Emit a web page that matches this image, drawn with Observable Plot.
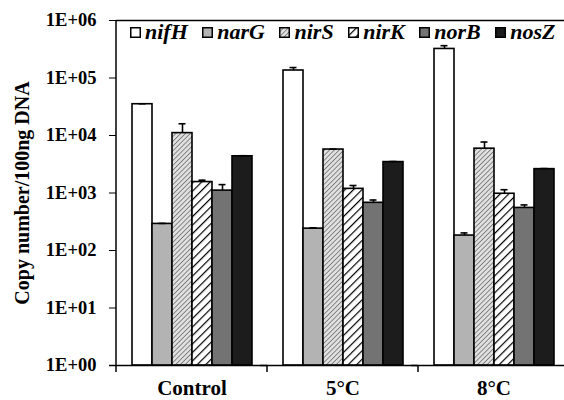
<!DOCTYPE html>
<html>
<head>
<meta charset="utf-8">
<script src="https://cdn.jsdelivr.net/npm/d3@7"></script>
<script src="https://cdn.jsdelivr.net/npm/@observablehq/plot@0.6"></script>
<style>
  body { margin: 0; background: white; }
  #wrap { position: relative; width: 564px; height: 400px; overflow: hidden; background: white; }
  #wrap > svg.plot { max-width: none; }
  #legend { position: absolute; top: 19px; left: 130px; display: flex; align-items: center;
    font-family: "Liberation Serif", serif; font-weight: bold; font-style: italic; font-size: 22px; color: black; }
  #legend .item { display: flex; align-items: center; margin-right: 14.5px; }
  #legend svg { margin-right: 4px; }
  g[aria-label="y-axis tick label"] text { font-size: 18.5px; }
  g[aria-label="y-axis label"] text { font-size: 20px; }
  g[aria-label="fx-axis tick label"] text { font-size: 21px; }
</style>
</head>
<body>
<svg width="0" height="0" style="position:absolute">
  <defs>
    <pattern id="pS" width="3.4" height="3.4" patternUnits="userSpaceOnUse" patternTransform="rotate(45)">
      <rect width="3.4" height="3.4" fill="#e0e0e0"></rect>
      <line x1="0" y1="0" x2="0" y2="3.4" stroke="#6a6a6a" stroke-width="1.5"></line>
    </pattern>
    <pattern id="pK" width="6" height="6" patternUnits="userSpaceOnUse" patternTransform="rotate(45)">
      <rect width="6" height="6" fill="white"></rect>
      <line x1="0" y1="0" x2="0" y2="6" stroke="black" stroke-width="2.4"></line>
    </pattern>
  </defs>
</svg>
<div id="wrap"><div id="legend"></div></div>
<script>
const groups = ["Control", "5°C", "8°C"];
const genes = ["nifH", "narG", "nirS", "nirK", "norB", "nosZ"];
const fills = ["white", "#b3b3b3", "url(#pS)", "url(#pK)", "#737373", "#1c1c1c"];

// values per group (Control, 5°C, 8°C)
const nifH = [35000, 135000, 320000];
const narG = [290, 240, 182];
const nirS = [11000, 5700, 5900];
const nirK = [1550, 1180, 970];
const norB = [1100, 675, 550];
const nosZ = [4350, 3450, 2600];

// upper error per group
const nifHErr = [600, 17000, 45000];
const narGErr = [6, 8, 20];
const nirSErr = [5000, 100, 1800];
const nirKErr = [120, 170, 170];
const norBErr = [300, 80, 70];
const nosZErr = [100, 80, 60];

const yTicks = [1, 10, 100, 1000, 10000, 100000, 1000000];

const series = {nifH, narG, nirS, nirK, norB, nosZ};
const errs = {nifH: nifHErr, narG: narGErr, nirS: nirSErr, nirK: nirKErr, norB: norBErr, nosZ: nosZErr};
const rows = [];
groups.forEach((g, i) => genes.forEach(gene => {
  rows.push({group: g, gene, value: series[gene][i], top: series[gene][i] + errs[gene][i]});
}));

// the plotting area runs a few pixels past the right edge of the 564px picture (clipped)
const chart = Plot.plot({
  width: 570,
  height: 400,
  marginTop: 20,
  marginBottom: 35,
  marginLeft: 115,
  marginRight: 0,
  style: {fontFamily: "Liberation Serif, serif", fontWeight: "bold", fontSize: "17px", color: "black", background: "white"},
  fx: {domain: groups, padding: 0, label: null},
  x: {domain: genes, paddingInner: 0, paddingOuter: 0.62, axis: null},
  y: {type: "log", domain: [1, 1e6]},
  color: {domain: genes, range: fills},
  marks: [
    Plot.barY(rows, {fx: "group", x: "gene", y1: 1, y2: "value", fill: "gene", stroke: "black", strokeWidth: 1.6}),
    Plot.ruleX(rows, {fx: "group", x: "gene", y1: "value", y2: "top", stroke: "black", strokeWidth: 1.6}),
    Plot.tickY(rows, {fx: "group", x: "gene", y: "top", stroke: "black", strokeWidth: 1.6, insetLeft: 6.5, insetRight: 6.5}),
    Plot.ruleY([1e6], {stroke: "black", strokeWidth: 1.5}),
    Plot.ruleY([1], {stroke: "black", strokeWidth: 1.5, insetLeft: -7}),
    Plot.axisY({ticks: yTicks, tickFormat: d => "1E+" + String(Math.round(Math.log10(d))).padStart(2, "0"),
      tickSize: 7, tickPadding: 13, stroke: "black",
      label: "Copy number/100ng DNA", labelAnchor: "center", labelOffset: 102, labelArrow: "none"}),
    Plot.axisFx({anchor: "bottom", tickSize: 0, tickPadding: 15, label: null})
  ]
});

const wrap = document.getElementById("wrap");
wrap.insertBefore(chart, wrap.firstChild);

// y-axis line and group-boundary ticks, positioned from Plot's own scales
const fxS = chart.scale("fx");
const yS = chart.scale("y");
const svg = d3.select(chart.tagName === "svg" ? chart : chart.querySelector("svg"));
svg.style("max-width", "none");
const yBottom = yS.apply(1), yTop = yS.apply(1e6);
const left = fxS.apply(groups[0]);
svg.append("line").attr("x1", left).attr("x2", left).attr("y1", yTop).attr("y2", yBottom)
  .attr("stroke", "black").attr("stroke-width", 1.5);
groups.forEach(g => {
  const x = fxS.apply(g);
  svg.append("line").attr("x1", x).attr("x2", x).attr("y1", yBottom).attr("y2", yBottom + 7)
    .attr("stroke", "black").attr("stroke-width", 1.5);
});

const legend = document.getElementById("legend");
genes.forEach((g, i) => {
  const item = document.createElement("div");
  item.className = "item";
  item.innerHTML = `<svg width="11" height="11"><rect x="0.75" y="0.75" width="9.5" height="9.5" fill="${fills[i]}" stroke="black" stroke-width="1.5"></rect></svg><span>${g}</span>`;
  legend.appendChild(item);
});
</script>
</body>
</html>
